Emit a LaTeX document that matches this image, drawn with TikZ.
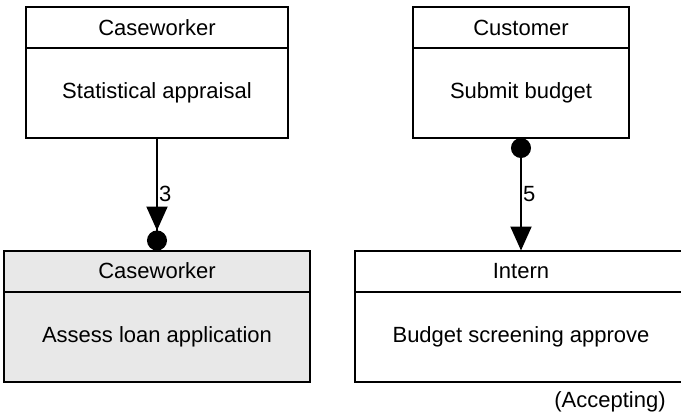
\documentclass[tikz,border=0pt]{standalone}
\usepackage{fontspec}
\setmainfont{Liberation Sans}
\usetikzlibrary{positioning,arrows.meta}
\definecolor{taskgray}{HTML}{E8E8E8}

\begin{document}
\begin{tikzpicture}[x=1pt, y=-1pt, line width=2pt, font=\fontsize{22}{26}\selectfont,
    hd/.style = {draw, rectangle, minimum height=41pt, inner sep=0pt, outer sep=0pt},
    bd/.style = {draw, rectangle, minimum height=90pt, inner sep=0pt, outer sep=0pt},
    num/.style = {anchor=west, inner sep=1pt}]
  \clip (0,0) rectangle (681,415);
  \node[hd, minimum width=262pt] (cw1) at (157,27.5) {Caseworker};
  \node[bd, minimum width=262pt] (stat) [below=0pt of cw1] {Statistical appraisal};
  \node[hd, minimum width=216pt] (cust) at (521,27.5) {Customer};
  \node[bd, minimum width=216pt] (subm) [below=0pt of cust] {Submit budget};
  \node[hd, minimum width=306pt, fill=taskgray] (cw2) at (157,271) {Caseworker};
  \node[bd, minimum width=306pt, fill=taskgray] (asse) [below=0pt of cw2] {Assess loan application};
  \node[hd, minimum width=332pt] (intr) at (521,271) {Intern};
  \node[bd, minimum width=332pt] (scrn) [below=0pt of intr] {Budget screening approve};
  \node (acc) at (610,402) {(Accepting)};
  \draw[-{Triangle[length=24pt,width=21pt] Circle[length=20pt]}] (stat) -- node[num] (n3) {3} (cw2);
  \draw[{Circle[length=20pt]}-{Triangle[length=24pt,width=21pt]}] (subm) -- node[num] (n5) {5} (intr);
\end{tikzpicture}
\end{document}
